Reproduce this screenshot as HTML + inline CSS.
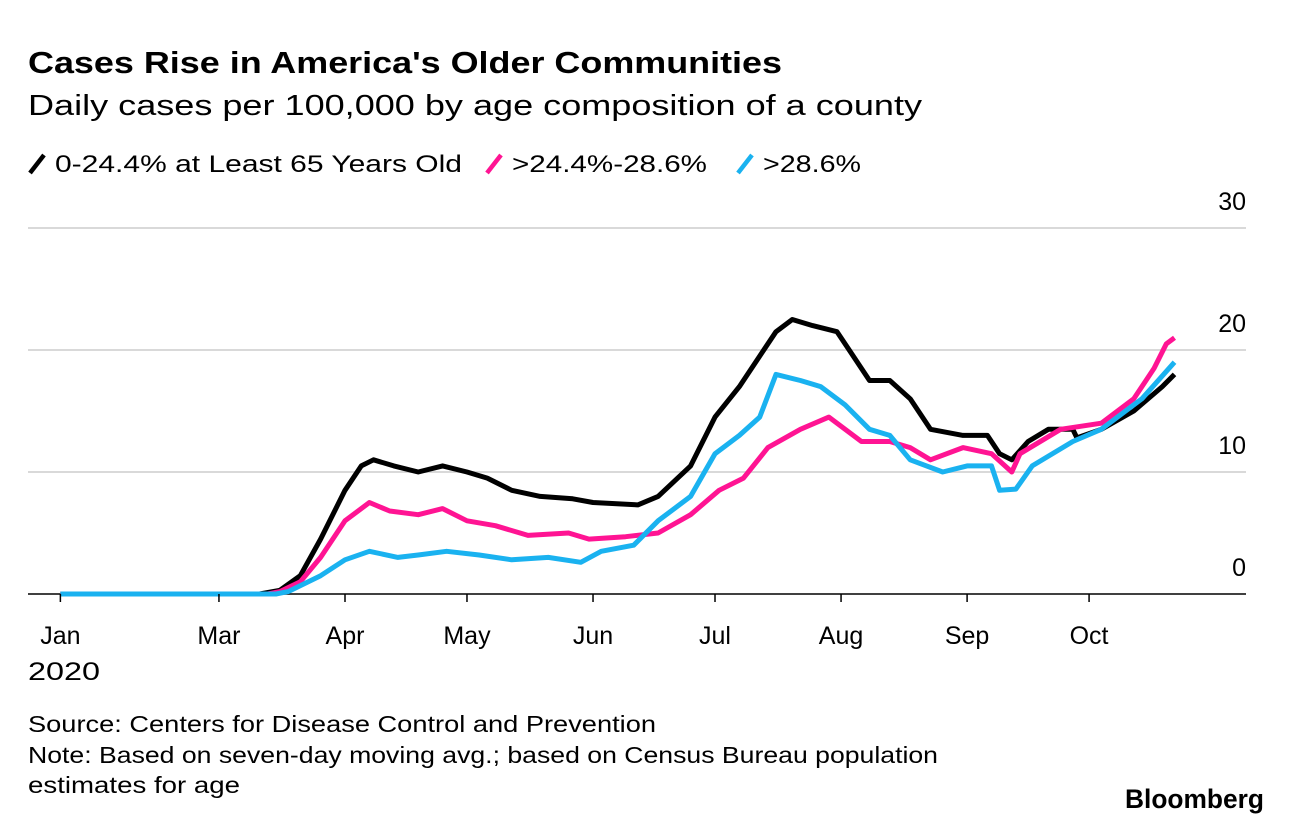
<!DOCTYPE html>
<html><head><meta charset="utf-8"><style>
body{margin:0;width:1292px;height:824px;background:#fff;font-family:"Liberation Sans",sans-serif;overflow:hidden}
svg text{font-family:"Liberation Sans",sans-serif}
</style></head><body>
<svg width="1292" height="824">
<text x="28" y="73" font-size="31" font-weight="bold" fill="#000" textLength="754" lengthAdjust="spacingAndGlyphs">Cases Rise in America's Older Communities</text>
<text x="28" y="115" font-size="29" fill="#000" textLength="894" lengthAdjust="spacingAndGlyphs">Daily cases per 100,000 by age composition of a county</text>
<g id="legend"></g>
<g id="grid"></g>
<g id="series"></g>
<g id="xaxis"></g>
<text x="28" y="680" font-size="25" textLength="72" lengthAdjust="spacingAndGlyphs">2020</text>
<text x="28" y="732" font-size="23" textLength="628" lengthAdjust="spacingAndGlyphs">Source: Centers for Disease Control and Prevention</text>
<text x="28" y="763" font-size="23" textLength="910" lengthAdjust="spacingAndGlyphs">Note: Based on seven-day moving avg.; based on Census Bureau population</text>
<text x="28" y="793" font-size="23" textLength="212" lengthAdjust="spacingAndGlyphs">estimates for age</text>
<text x="1125" y="808" font-size="27" font-weight="bold" textLength="139" lengthAdjust="spacingAndGlyphs">Bloomberg</text>
</svg>
<script>
const yTicks=[0,10,20,30];
const xTickDays=[21,60,91,121,152,182,213,244,274];
const xTickLabels=["Jan","Mar","Apr","May","Jun","Jul","Aug","Sep","Oct"];
const seriesNames=["0-24.4% at Least 65 Years Old",">24.4%-28.6%",">28.6%"];
const seriesColors=["#000000","#ff1493","#1ab2f0"];
const blackDays=[21,70,75,80,85,91,95,98,103,109,115,121,126,132,139,147,152,163,168,176,182,188,193,197,201,206,212,215,220,225,230,235,243,249,252,255,259,264,270,271,277,285,292,295];
const blackVals=[0,0,0.3,1.5,4.5,8.5,10.5,11,10.5,10,10.5,10,9.5,8.5,8,7.8,7.5,7.3,8,10.5,14.5,17,19.5,21.5,22.5,22,21.5,20,17.5,17.5,16,13.5,13,13,11.5,11,12.5,13.5,13.5,12.8,13.5,15,17,18];
const pinkDays=[21,72,75,80,85,91,97,102,109,115,121,128,136,146,151,160,168,176,183,189,195,203,210,218,225,230,235,243,250,255,257,267,277,285,290,293,295];
const pinkVals=[0,0,0.2,1,3,6,7.5,6.8,6.5,7,6,5.6,4.8,5,4.5,4.7,5,6.5,8.5,9.5,12,13.5,14.5,12.5,12.5,12,11,12,11.5,10,11.5,13.5,14,16,18.5,20.5,21];
const cyanDays=[21,74,77,85,91,97,104,109,116,124,132,141,149,154,162,168,176,182,188,193,197,203,208,214,220,225,230,238,244,250,252,256,260,270,277,287,295];
const cyanVals=[0,0,0.2,1.5,2.8,3.5,3,3.2,3.5,3.2,2.8,3,2.6,3.5,4,6,8,11.5,13,14.5,18,17.5,17,15.5,13.5,13,11,10,10.5,10.5,8.5,8.6,10.5,12.5,13.5,16,19];
const NS="http://www.w3.org/2000/svg";
const xs=d=>345+(d-91)*4.066;
const ys=v=>594-v*12.2;
function mk(t,a,p){const e=document.createElementNS(NS,t);for(const k in a)e.setAttribute(k,a[k]);p.appendChild(e);return e;}
const grid=document.getElementById('grid');
yTicks.forEach(v=>{
 const l=mk('line',{x1:28,x2:1246,y1:ys(v),y2:ys(v),stroke:v===0?'#000':'#d9d9d9','stroke-width':v===0?1.5:2},grid);
 
 
 const t=mk('text',{x:1246,y:ys(v)-18,'font-size':25,'text-anchor':'end'},grid);
 t.textContent=v;
 
 
});
const xa=document.getElementById('xaxis');
xTickDays.forEach((d,i)=>{
 const l=mk('line',{x1:xs(d),x2:xs(d),y1:594,y2:602,stroke:'#000','stroke-width':1.5},xa);
 
 
 const t=mk('text',{x:xs(d),y:644,'font-size':25,'text-anchor':'middle'},xa);
 t.textContent=xTickLabels[i];
 
 
});
const sg=document.getElementById('series');
[[blackDays,blackVals],[pinkDays,pinkVals],[cyanDays,cyanVals]].forEach((s,i)=>{
 const pts=s[0].map((d,j)=>xs(d).toFixed(1)+','+ys(s[1][j]).toFixed(1)).join(' ');
 const p=mk('polyline',{points:pts,fill:'none',stroke:seriesColors[i],'stroke-width':5,'stroke-linejoin':'round'},sg);
 
 
});
const lg=document.getElementById('legend');
const lx=[30,487,738];
const lw=[407,195,98];
seriesNames.forEach((n,i)=>{
 const l=mk('line',{x1:lx[i],y1:173,x2:lx[i]+14,y2:155,stroke:seriesColors[i],'stroke-width':4.5},lg);
 
 
 const t=mk('text',{x:lx[i]+25,y:172,'font-size':24,textLength:lw[i],lengthAdjust:'spacingAndGlyphs'},lg);
 t.textContent=n;
 
 
});
</script>
</body></html>
